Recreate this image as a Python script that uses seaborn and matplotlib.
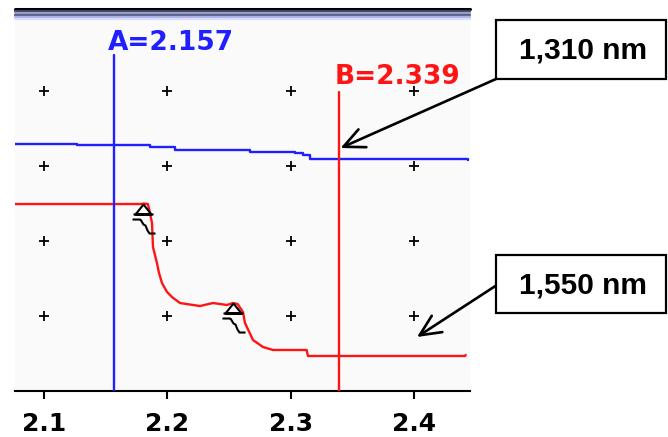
import numpy as np
import pandas as pd
import matplotlib
matplotlib.use("Agg")
import matplotlib.pyplot as plt
from matplotlib.path import Path
from matplotlib.patches import Rectangle
from matplotlib.lines import Line2D
import seaborn as sns

# ---- data -------------------------------------------------------------
blue_x = [2.0765, 2.127, 2.186, 2.206, 2.267, 2.3035, 2.310, 2.316, 2.4435]
blue_y = [3.30, 3.28, 3.25, 3.22, 3.19, 3.17, 3.15, 3.10, 3.08]

red_x = [2.0765, 2.1790, 2.1803, 2.1843, 2.1860, 2.1876, 2.1884, 2.1916,
         2.1933, 2.1957, 2.1998, 2.2038, 2.2103, 2.2265, 2.2371, 2.2484,
         2.2533, 2.2570, 2.2614, 2.2630, 2.2695, 2.2776, 2.2857, 2.3130,
         2.3141, 2.4415, 2.4420]
red_y = [2.493, 2.493, 2.500, 2.493, 2.373, 2.240, 1.920, 1.707,
         1.573, 1.440, 1.320, 1.253, 1.173, 1.133, 1.173, 1.147,
         1.173, 1.160, 1.053, 0.907, 0.680, 0.587, 0.547, 0.547,
         0.467, 0.467, 0.480]

event_x = [2.1803, 2.2533]

cursor_a = 2.157
cursor_b = 2.339

grid_x = [2.1, 2.2, 2.3, 2.4]
grid_y = [1, 2, 3, 4]
tick_labels = ["2.1", "2.2", "2.3", "2.4"]

label_1310 = "1,310 nm"
label_1550 = "1,550 nm"

# ---- figure -------------------------------------------------------------
sns.set_theme(style="white")
plt.rcParams["font.family"] = ["DejaVu Sans"]
plt.rcParams["text.color"] = "black"
plt.rcParams["xtick.color"] = "black"

W, H = 668, 437
fig = plt.figure(figsize=(W / 100, H / 100), dpi=100)
fig.patch.set_facecolor("white")

def fx(px):
    return px / W

def fy(py):
    return 1 - py / H

ax = fig.add_axes([fx(15), fy(391), fx(470) - fx(15), fy(20) - fy(391)])
ax.set_facecolor("#fafafa")
ax.set_xlim(2.0765, 2.4455)
ax.set_ylim(0, 4.947)

BLUE = "#1f1fff"
RED = "#ff1414"

# grid crosses
gx, gy = np.meshgrid(grid_x, grid_y)
grid_df = pd.DataFrame({"x": gx.ravel(), "y": gy.ravel()})
sns.scatterplot(data=grid_df, x="x", y="y", marker="+", s=55, color="black",
                linewidth=1.3, ax=ax, zorder=2)

# traces
blue_df = pd.DataFrame({"x": blue_x, "y": blue_y})
red_df = pd.DataFrame({"x": red_x, "y": red_y})
sns.lineplot(data=blue_df, x="x", y="y", color=BLUE, lw=1.7,
             drawstyle="steps-post", estimator=None, sort=False, ax=ax, zorder=3)
sns.lineplot(data=red_df, x="x", y="y", color=RED, lw=1.7,
             estimator=None, sort=False, ax=ax, zorder=3)

# event markers: triangle with a small wavy tail
ev_verts = [(0, 0), (-8, -10), (8, -10), (0, 0),
            (-10, -10), (10, -10),
            (-11, -15), (-3, -15),
            (-3, -15), (0, -20), (2, -21), (4, -26), (6, -29), (12, -29)]
ev_codes = [Path.MOVETO, Path.LINETO, Path.LINETO, Path.LINETO,
            Path.MOVETO, Path.LINETO,
            Path.MOVETO, Path.LINETO,
            Path.MOVETO, Path.LINETO, Path.LINETO, Path.LINETO, Path.LINETO, Path.LINETO]
ev_path = Path(ev_verts, ev_codes)
event_y = np.interp(event_x, red_x, red_y)
ax.plot(event_x, event_y, linestyle="none", marker=ev_path, markersize=41.8,
        markerfacecolor="none", markeredgecolor="black", markeredgewidth=1.5,
        zorder=4)

# cursors
ax.axvline(cursor_a, ymin=0, ymax=(391 - 55) / 371, color=BLUE, lw=1.7, zorder=3)
ax.axvline(cursor_b, ymin=0, ymax=(391 - 92) / 371, color=RED, lw=1.7, zorder=3)
ax.annotate(f"A={cursor_a:.3f}", xy=(cursor_a, (391 - 50) / 75), xytext=(-6, 0),
            textcoords="offset pixels", color=BLUE, fontsize=19, fontweight="bold",
            ha="left", va="baseline")
ax.annotate(f"B={cursor_b:.3f}", xy=(cursor_b, (391 - 84) / 75), xytext=(-4, 0),
            textcoords="offset pixels", color=RED, fontsize=19, fontweight="bold",
            ha="left", va="baseline")

# axes styling
for s in ("top", "left", "right"):
    ax.spines[s].set_visible(False)
ax.spines["bottom"].set_color("black")
ax.spines["bottom"].set_linewidth(1.5)
ax.set_xticks(grid_x)
ax.set_xticklabels(tick_labels, fontsize=18, fontweight="bold", color="black")
ax.set_yticks([])
ax.tick_params(axis="x", direction="out", length=6, width=1.5, pad=9,
               colors="black", bottom=True)
ax.set_xlabel("")
ax.set_ylabel("")

# header stripes above the panel
stripes = [(9, "#000000", 2.2), (11, "#3e4260", 1.6), (13, "#9aa0d0", 1.6),
           (15, "#5e6385", 1.6), (17, "#aab2e6", 1.6), (19, "#d8dcff", 1.6)]
for py, c, lw in stripes:
    fig.add_artist(Line2D([fx(15), fx(470)], [fy(py), fy(py)], color=c, lw=lw,
                          transform=fig.transFigure))

# wavelength call-out boxes
for (top, bot, txt) in [(20, 79, label_1310), (255, 313, label_1550)]:
    fig.add_artist(Rectangle((fx(496), fy(bot)), fx(666) - fx(496), fy(top) - fy(bot),
                             transform=fig.transFigure, fc="white", ec="black", lw=1.6))
    fig.text(fx(583), fy((top + bot) / 2 + 1), txt, ha="center", va="center",
             fontsize=21.5, fontweight="bold", color="black",
             family=["Liberation Sans", "DejaVu Sans"])

arrow_kw = dict(arrowstyle="->,head_length=0.75,head_width=0.35", lw=1.9,
                color="black", shrinkA=0, shrinkB=0, mutation_scale=20)
ax.annotate("", xy=(2.3405, (391 - 148) / 75), xycoords="data",
            xytext=(496, H - 79), textcoords="figure pixels", arrowprops=arrow_kw,
            annotation_clip=False)
ax.annotate("", xy=(2.4025, (391 - 337) / 75), xycoords="data",
            xytext=(500, H - 283), textcoords="figure pixels", arrowprops=arrow_kw,
            annotation_clip=False)

fig.savefig("out.png", dpi=100)
